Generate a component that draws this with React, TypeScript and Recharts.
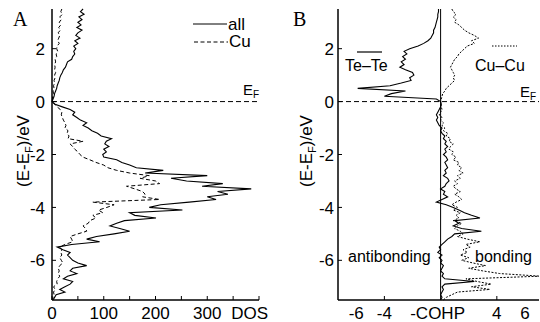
import React from 'react';
import { ComposedChart, Line, XAxis, YAxis, ReferenceLine } from 'recharts';

// Energy grid (E - E_F, eV)
const energy = [
  3.5, 3.4, 3.3, 3.2, 3.1, 3.0, 2.9, 2.8, 2.7, 2.6,
  2.5, 2.4, 2.3, 2.2, 2.1, 2.0, 1.9, 1.8, 1.7, 1.6,
  1.5, 1.4, 1.3, 1.2, 1.1, 1.0, 0.9, 0.8, 0.7, 0.6,
  0.5, 0.4, 0.3, 0.2, 0.1, 0.0, -0.1, -0.2, -0.3, -0.4,
  -0.5, -0.6, -0.7, -0.8, -0.9, -1.0, -1.1, -1.2, -1.3, -1.4,
  -1.5, -1.6, -1.7, -1.8, -1.9, -2.0, -2.1, -2.2, -2.3, -2.4,
  -2.5, -2.6, -2.7, -2.8, -2.9, -3.0, -3.1, -3.2, -3.3, -3.4,
  -3.5, -3.6, -3.7, -3.8, -3.9, -4.0, -4.1, -4.2, -4.3, -4.4,
  -4.5, -4.6, -4.7, -4.8, -4.9, -5.0, -5.1, -5.2, -5.3, -5.4,
  -5.5, -5.6, -5.7, -5.8, -5.9, -6.0, -6.1, -6.2, -6.3, -6.4,
  -6.5, -6.6, -6.7, -6.8, -6.9, -7.0, -7.1, -7.2, -7.3, -7.4,
  -7.5,
];

// Panel A: total DOS ("all")
const dosAll = [
  60, 55, 62, 52, 58, 50, 56, 48, 58, 50,
  46, 54, 44, 50, 42, 46, 42, 44, 40, 38,
  30, 28, 26, 22, 20, 17, 15, 14, 12, 10,
  9, 7, 5, 4, 2, 0, 6, 20, 35, 44,
  40, 48, 55, 67, 60, 70, 77, 88, 95, 115,
  105, 102, 110, 100, 105, 98, 100, 125, 135, 150,
  163, 215, 180, 300, 230, 260, 330, 290, 385, 320,
  340, 300, 317, 265, 210, 188, 252, 150, 160, 201,
  140, 125, 112, 131, 150, 120, 86, 67, 92, 38,
  10, 21, 35, 30, 35, 40, 50, 67, 40, 35,
  48, 30, 22, 40, 35, 25, 15, 25, 8, 5,
  2,
];

// Panel A: Cu partial DOS
const dosCu = [
  19, 17, 20, 15, 18, 14, 17, 13, 16, 12,
  15, 13, 11, 14, 10, 9, 11, 8, 9, 6,
  7, 5, 6, 5, 7, 5, 6, 4, 5, 3,
  4, 2, 3, 1, 1, 0, 5, 10, 16, 19,
  18, 20, 22, 25, 27, 25, 31, 29, 33, 31,
  60, 35, 40, 44, 50, 54, 60, 73, 85, 100,
  108, 125, 150, 188, 170, 200, 208, 144, 160, 175,
  180, 175, 208, 79, 120, 106, 90, 98, 79, 85,
  73, 70, 60, 65, 67, 50, 35, 38, 40, 25,
  15, 19, 17, 19, 15, 18, 21, 15, 12, 14,
  12, 15, 11, 9, 10, 3, 6, 3, 4, 2,
  1,
];

// Panel B: -COHP Te–Te
const cohpTeTe = [
  -0.15, -0.15, -0.2, -0.2, -0.25, -0.3, -0.35, -0.4, -0.5, -0.5,
  -0.6, -0.7, -0.9, -1.2, -1.6, -2.2, -2.6, -2.4, -2.7, -2.5,
  -2.8, -2.6, -2.9, -2.5, -2.0, -1.9, -2.2, -2.1, -2.8, -3.6,
  -5.9, -2.5, -3.5, -4.0, -0.3, 0, 0.05, 0, -0.1, -0.2,
  -0.3, -0.2, -0.3, -0.2, -0.1, 0.1, 0.0, 0.1, 0.3, 0.2,
  0.4, 0.3, 0.5, 0.3, 0.4, 0.2, 0.4, 0.5, 0.3, 0.4,
  0.5, 0.3, 0.4, 0.2, 0.5, 0.6, 0.4, 0.3, 0.0, 0.3,
  0.2, 0.5, 0.1, -0.3, 0.4, 0.9, 1.3, 1.7, 2.2, 2.8,
  1.0, 1.3, 0.9, 1.5, 2.9, 1.0, 0.8, 0.5, 0.3, 0.1,
  -0.1, 0.0, -0.2, 0.1, -0.1, 0.1, 0.0, 0.2, 0.1, 0.0,
  0.2, 0.1, 0.3, 2.4, 0.3, 0.1, 0.2, 0.1, 0.0, 0.1,
  0.0,
];

// Panel B: -COHP Cu–Cu
const cohpCuCu = [
  0.8, 0.9, 1.1, 0.9, 1.1, 1.0, 1.3, 1.5, 1.7, 2.0,
  2.4, 2.7, 2.2, 2.4, 1.9, 1.7, 1.5, 1.3, 1.2, 1.0,
  0.9, 0.8, 0.7, 0.8, 0.9, 1.0, 0.9, 1.0, 0.8, 0.6,
  0.4, 0.3, 0.15, 0.1, 0.05, 0, 0.0, 0.05, 0.1, 0.0,
  -0.1, 0.1, 0.0, 0.2, 0.1, 0.3, 0.2, 0.5, 0.4, 0.7,
  0.6, 0.9, 0.7, 0.6, 0.9, 0.8, 1.1, 0.9, 1.3, 1.2,
  1.5, 1.3, 1.6, 1.2, 1.4, 1.0, 1.2, 0.9, 1.1, 1.4,
  1.0, 1.3, 1.5, 1.1, 0.8, 1.2, 0.9, 1.4, 1.1, 1.3,
  0.9, 1.5, 1.2, 1.0, 1.4, 1.6, 1.2, 1.9, 2.8, 1.8,
  2.1, 1.6, 1.9, 1.4, 2.0, 1.5, 2.3, 3.2, 2.0, 3.0,
  4.2, 7.1, 1.8, 2.6, 3.6, 2.2, 3.5, 1.2, 0.8, 0.4,
  0.2,
];

const energyTicks = [2, 0, -2, -4, -6];
const dosTicks = [0, 50, 100, 150, 200, 250, 300, 350, 400];
const dosTickLabels: Record<string, string> = { '0': '0', '100': '100', '200': '200', '300': '300', '400': 'DOS' };
const cohpTicks = [-6, -4, 0, 4, 6];
const cohpTickLabels: Record<string, string> = { '-6': '-6', '-4': '-4', '0': '-COHP', '4': '4', '6': '6' };
const cohpMarkTicks = [-4, 4];

const dataA = energy.map((E, i) => ({ E, all: dosAll[i], cu: dosCu[i] }));
const dataB = energy.map((E, i) => ({ E, teTe: cohpTeTe[i], cuCu: cohpCuCu[i] }));

const FONT = '"Liberation Sans", Arial, Helvetica, sans-serif';
const SERIF = '"Liberation Serif", "Times New Roman", serif';
const AXIS = { stroke: '#000', strokeWidth: 1.5 };

const leftTick = (gap: number) => (props: any) => {
  const { x, y, payload } = props;
  return (
    <g>
      <line x1={x} y1={y} x2={x + 4} y2={y} stroke="#000" strokeWidth={1} />
      <text x={x - gap} y={y} dy="0.36em" textAnchor="end" fontSize={17} fontFamily={FONT} fill="#000">
        {payload.value}
      </text>
    </g>
  );
};

const rightTick = (props: any) => {
  const { x, y } = props;
  return <line x1={x} y1={y} x2={x - 4} y2={y} stroke="#000" strokeWidth={1} />;
};

const topTick = (marks: number[] | null) => (props: any) => {
  const { x, y, payload } = props;
  if (marks && !marks.includes(payload.value)) return <g />;
  return <line x1={x} y1={y} x2={x} y2={y + 4} stroke="#000" strokeWidth={1} />;
};

const dosBottomTick = (props: any) => {
  const { x, y, payload } = props;
  const label = dosTickLabels[String(payload.value)] ?? '';
  const isDos = payload.value === 400;
  return (
    <g>
      <line x1={x} y1={y} x2={x} y2={y - 4} stroke="#000" strokeWidth={1} />
      {label && (
        <text x={isDos ? x + 9 : x} y={y + 19} textAnchor={isDos ? 'end' : 'middle'} fontSize={17} fontFamily={FONT} fill="#000">
          {label}
        </text>
      )}
    </g>
  );
};

const cohpBottomTick = (props: any) => {
  const { x, y, payload } = props;
  const label = cohpTickLabels[String(payload.value)] ?? '';
  const mark = cohpMarkTicks.includes(payload.value);
  return (
    <g>
      {mark && <line x1={x} y1={y} x2={x} y2={y - 4} stroke="#000" strokeWidth={1} />}
      <text x={payload.value === 0 ? x - 3 : x} y={y + 19} textAnchor="middle" fontSize={17} fontFamily={FONT} fill="#000">
        {label}
      </text>
    </g>
  );
};

function PanelA() {
  return (
    <ComposedChart width={270} height={322} data={dataA} layout="vertical" margin={{ top: 9, right: 11, bottom: 0, left: 0 }}>
      <XAxis type="number" domain={[0, 400]} ticks={dosTicks} interval={0} height={22} tickSize={0} tickMargin={0} tickLine={false} axisLine={AXIS} tick={dosBottomTick} />
      <XAxis xAxisId="t" orientation="top" type="number" domain={[0, 400]} ticks={dosTicks} interval={0} height={0} tickSize={0} tickMargin={0} tickLine={false} axisLine={AXIS} tick={topTick(null)} />
      <YAxis dataKey="E" type="number" reversed domain={[-7.5, 3.5]} ticks={energyTicks} interval={0} width={52} tickSize={0} tickMargin={0} tickLine={false} axisLine={AXIS} tick={leftTick(7)} />
      <YAxis yAxisId="r" orientation="right" dataKey="E" type="number" reversed domain={[-7.5, 3.5]} ticks={energyTicks} interval={0} width={0} tickSize={0} tickMargin={0} tickLine={false} axisLine={AXIS} tick={rightTick} />
      <ReferenceLine y={0} stroke="#000" strokeWidth={1} strokeDasharray="5 3" />
      <Line dataKey="cu" stroke="#000" strokeWidth={1} strokeDasharray="4 2.5" dot={false} type="linear" isAnimationActive={false} />
      <Line dataKey="all" stroke="#000" strokeWidth={1.1} dot={false} type="linear" isAnimationActive={false} />
    </ComposedChart>
  );
}

function PanelB() {
  return (
    <ComposedChart width={270} height={322} data={dataB} layout="vertical" margin={{ top: 9, right: 1, bottom: 0, left: 0 }}>
      <XAxis type="number" domain={[-7.3, 7.0]} allowDataOverflow ticks={cohpTicks} interval={0} height={22} tickSize={0} tickMargin={0} tickLine={false} axisLine={AXIS} tick={cohpBottomTick} />
      <XAxis xAxisId="t" orientation="top" type="number" domain={[-7.3, 7.0]} allowDataOverflow ticks={cohpTicks} interval={0} height={0} tickSize={0} tickMargin={0} tickLine={false} axisLine={AXIS} tick={topTick(cohpMarkTicks)} />
      <YAxis dataKey="E" type="number" reversed domain={[-7.5, 3.5]} ticks={energyTicks} interval={0} width={68} tickSize={0} tickMargin={0} tickLine={false} axisLine={AXIS} tick={leftTick(4)} />
      <YAxis yAxisId="r" orientation="right" dataKey="E" type="number" reversed domain={[-7.5, 3.5]} ticks={energyTicks} interval={0} width={0} tickSize={0} tickMargin={0} tickLine={false} axisLine={AXIS} tick={rightTick} />
      <ReferenceLine y={0} stroke="#000" strokeWidth={1} strokeDasharray="5 3" />
      <ReferenceLine x={0} stroke="#000" strokeWidth={1} />
      <Line dataKey="cuCu" stroke="#000" strokeWidth={1} strokeDasharray="2 1.5" dot={false} type="linear" isAnimationActive={false} />
      <Line dataKey="teTe" stroke="#000" strokeWidth={1.1} dot={false} type="linear" isAnimationActive={false} />
    </ComposedChart>
  );
}

function Overlay() {
  const t = { fontFamily: FONT, fill: '#000' };
  return (
    <svg width={540} height={322} style={{ position: 'absolute', left: 0, top: 0, pointerEvents: 'none' }}>
      <text x={13} y={26} fontSize={20} fontFamily={SERIF} fill="#000">A</text>
      <text x={293} y={26} fontSize={20} fontFamily={SERIF} fill="#000">B</text>
      <text transform="translate(29,151) rotate(-90)" textAnchor="middle" fontSize={17} {...t}>
        (E-E<tspan dy={4} fontSize={11}>F</tspan><tspan dy={-4}>)/eV</tspan>
      </text>
      <text transform="translate(312,151) rotate(-90)" textAnchor="middle" fontSize={17} {...t}>
        (E-E<tspan dy={4} fontSize={11}>F</tspan><tspan dy={-4}>)/eV</tspan>
      </text>
      <line x1={193} y1={24} x2={227} y2={24} stroke="#000" strokeWidth={1} />
      <text x={228} y={30} fontSize={17} {...t}>all</text>
      <line x1={194} y1={42} x2={228} y2={42} stroke="#000" strokeWidth={1} strokeDasharray="4 2.5" />
      <text x={229} y={47} fontSize={17} {...t}>Cu</text>
      <text x={243} y={95} fontSize={15} {...t}>E<tspan dy={3} fontSize={10}>F</tspan></text>
      <text x={520} y={97} fontSize={15} {...t}>E<tspan dy={3} fontSize={10}>F</tspan></text>
      <line x1={357} y1={52} x2={382} y2={52} stroke="#000" strokeWidth={1.2} />
      <text x={345} y={71} fontSize={16} {...t}>Te–Te</text>
      <line x1={492} y1={46} x2={517} y2={46} stroke="#000" strokeWidth={1} strokeDasharray="1.5 1.5" />
      <text x={475} y={71} fontSize={16} {...t}>Cu–Cu</text>
      <text x={348} y={262} fontSize={16} {...t}>antibonding</text>
      <text x={475} y={262} fontSize={16} {...t}>bonding</text>
    </svg>
  );
}

export default function App() {
  return (
    <div style={{ position: 'absolute', left: 0, top: 0, width: 540, height: 322, background: '#fff', overflow: 'hidden' }}>
      <div style={{ position: 'absolute', left: 0, top: 0 }}>
        <PanelA />
      </div>
      <div style={{ position: 'absolute', left: 270, top: 0 }}>
        <PanelB />
      </div>
      <Overlay />
    </div>
  );
}
